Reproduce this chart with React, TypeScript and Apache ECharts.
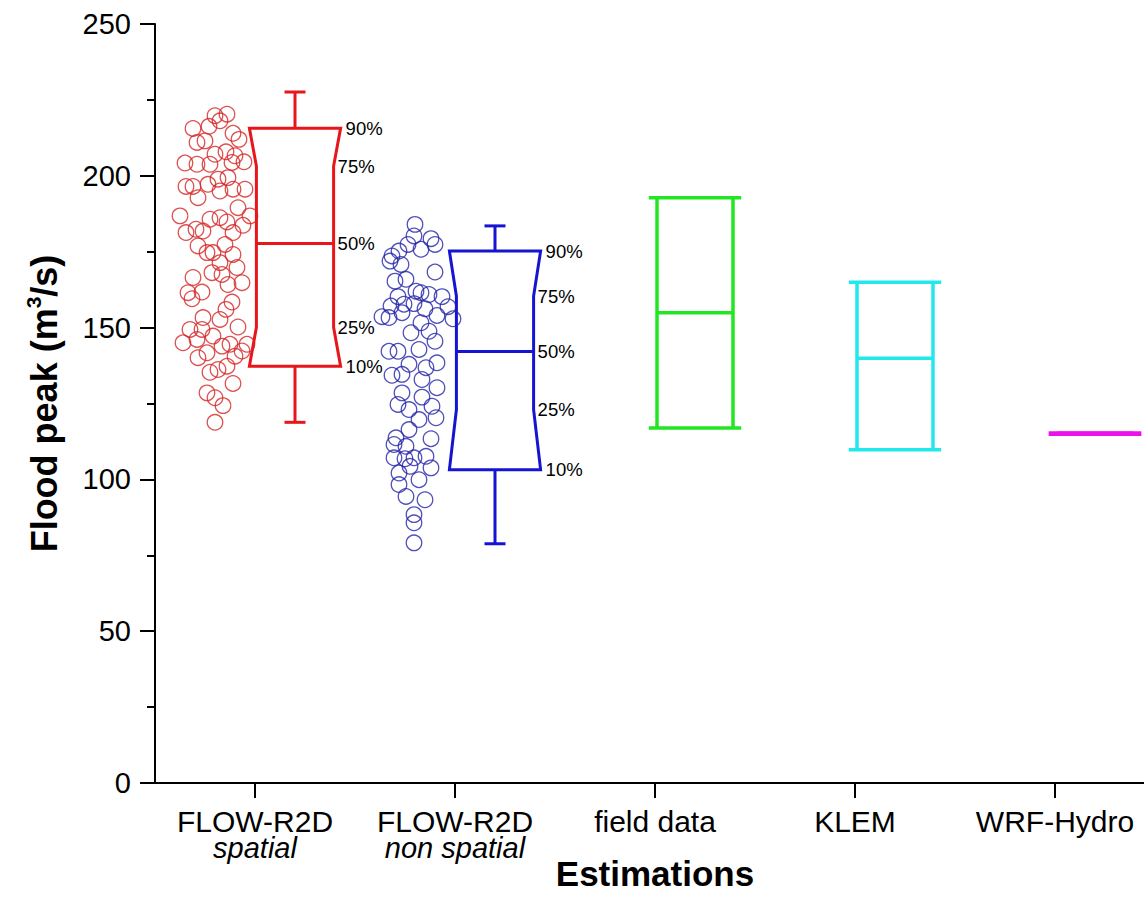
import React, { useEffect, useRef } from 'react';
import * as echarts from 'echarts';

const FONT = "'Liberation Sans', Arial, Helvetica, sans-serif";

// x categories (main label + italic sub label)
const categories = ['FLOW-R2D', 'FLOW-R2D', 'field data', 'KLEM', 'WRF-Hydro'];
const subLabels = ['spatial', 'non spatial', '', '', ''];

const yMin = 0;
const yMax = 250;
const yStep = 50;

// [jitter (category units), flood peak] for the FLOW-R2D spatial runs
const spatialRuns = [
  [-0.2, 219.8], [-0.14, 220.3], [-0.31, 215.6], [-0.23, 216.3], [-0.175, 218.1], [-0.11, 214.0],
  [-0.08, 212.0], [-0.29, 211.0], [-0.25, 211.5], [-0.145, 207.9], [-0.2, 207.1], [-0.1, 206.6],
  [-0.055, 204.6], [-0.35, 204.2], [-0.29, 203.8], [-0.225, 203.8], [-0.115, 204.4], [-0.135, 199.4],
  [-0.185, 198.9], [-0.235, 197.2], [-0.345, 196.5], [-0.31, 196.5], [-0.05, 195.6], [-0.11, 195.6],
  [-0.285, 192.8], [-0.175, 195.0], [-0.085, 189.5], [-0.375, 186.8], [-0.025, 186.8], [-0.225, 185.7],
  [-0.175, 186.2], [-0.14, 184.8], [-0.06, 183.7], [-0.345, 181.3], [-0.295, 182.4], [-0.26, 181.8],
  [-0.11, 181.3], [-0.285, 176.9], [-0.15, 177.4], [-0.24, 174.7], [-0.21, 174.7], [-0.11, 174.1],
  [-0.175, 171.4], [-0.09, 169.8], [-0.215, 168.1], [-0.31, 166.5], [-0.135, 164.2], [-0.065, 164.8],
  [-0.165, 167.5], [-0.335, 161.5], [-0.315, 159.5], [-0.265, 161.7], [-0.115, 158.4], [-0.145, 156.0],
  [-0.26, 153.3], [-0.175, 152.7], [-0.085, 150.2], [-0.325, 149.4], [-0.265, 149.4], [-0.36, 145.0],
  [-0.29, 146.1], [-0.21, 147.2], [-0.165, 143.9], [-0.125, 144.5], [-0.04, 144.5], [-0.065, 142.3],
  [-0.285, 140.1], [-0.24, 141.7], [-0.1, 140.6], [-0.225, 135.3], [-0.185, 136.2], [-0.14, 137.3],
  [-0.11, 131.6], [-0.24, 128.5], [-0.2, 126.9], [-0.16, 124.3], [-0.2, 118.8],
];

// [jitter (category units), flood peak] for the FLOW-R2D non spatial runs
const nonSpatialRuns = [
  [-0.2, 184.0], [-0.205, 180.2], [-0.12, 179.3], [-0.1, 177.4], [-0.235, 177.4], [-0.28, 175.2],
  [-0.17, 175.8], [-0.325, 171.9], [-0.27, 170.8], [-0.1, 168.3], [-0.3, 165.3], [-0.245, 165.9],
  [-0.195, 162.0], [-0.17, 161.5], [-0.13, 160.9], [-0.285, 160.2], [-0.065, 160.2], [-0.32, 157.1],
  [-0.365, 153.6], [-0.33, 153.3], [-0.265, 154.9], [-0.15, 156.2], [-0.09, 154.0], [-0.035, 156.9],
  [-0.01, 152.9], [-0.17, 151.6], [-0.22, 148.3], [-0.13, 148.8], [-0.1, 145.5], [-0.33, 142.2],
  [-0.285, 142.2], [-0.18, 142.8], [-0.23, 137.9], [-0.145, 136.8], [-0.09, 138.4], [-0.315, 134.3],
  [-0.265, 134.6], [-0.165, 132.9], [-0.09, 130.2], [-0.265, 128.5], [-0.165, 127.1], [-0.285, 124.7],
  [-0.23, 123.0], [-0.115, 124.1], [-0.095, 120.3], [-0.18, 119.7], [-0.23, 116.4], [-0.295, 113.7],
  [-0.12, 113.4], [-0.245, 110.9], [-0.305, 107.1], [-0.205, 107.1], [-0.145, 107.6], [-0.12, 103.8],
  [-0.28, 102.1], [-0.18, 99.9], [-0.28, 98.3], [-0.245, 94.4], [-0.15, 93.3], [-0.205, 88.4],
  [-0.205, 85.7], [-0.205, 79.1], [-0.255, 157.7], [-0.205, 157.9], [-0.25, 106.8], [-0.225, 104.3],
  [-0.305, 111.5], [-0.315, 173.6],
];

// notched boxes: [category, lower whisker, p10, p25, median, p75, p90, upper whisker]
const notchedBoxes = [
  [0, 118.8, 137.3, 150.1, 177.7, 203.2, 215.7, 227.6],
  [1, 78.8, 103.2, 123.0, 142.1, 160.4, 175.2, 183.5],
];
const percentLabels = ['10%', '25%', '50%', '75%', '90%'];

// simple boxes: [category, min, median, max]
const simpleBoxes = [
  [2, 116.9, 154.9, 192.8],
  [3, 109.8, 139.9, 164.9],
  [4, 115.0, 115.0, 115.0],
];

const boxColors = ['#e8151b', '#1414d2', '#22e622', '#22e8ec', '#ea12ea'];
const dotColors = ['#d42626', '#2424a8'];

const BOX_OFFSET = 0.2;
const NOTCH_HALF = 0.228;
const NOTCH_INSET = 7;
const CAP_HALF = 10.5;
const SIMPLE_HALF = 0.19;
const SIMPLE_CAP_HALF = 0.231;

function line(x1: number, y1: number, x2: number, y2: number, style: any) {
  return { type: 'line', shape: { x1, y1, x2, y2 }, style };
}

function renderNotched(params: any, api: any) {
  const cat = api.value(0) as number;
  const low = api.value(1), p10 = api.value(2), p25 = api.value(3), med = api.value(4);
  const p75 = api.value(5), p90 = api.value(6), high = api.value(7);
  const color = boxColors[cat];
  const cx = api.coord([cat + BOX_OFFSET, med])[0];
  const hw = api.size([NOTCH_HALF, 0])[0];
  const y = (v: number) => api.coord([cat + BOX_OFFSET, v])[1];
  const st = { stroke: color, lineWidth: 3, fill: 'none' };
  const L = cx - hw, R = cx + hw, Li = L + NOTCH_INSET, Ri = R - NOTCH_INSET;
  const children: any[] = [
    {
      type: 'polygon',
      shape: {
        points: [
          [L, y(p90)], [R, y(p90)], [Ri, y(p75)], [Ri, y(p25)],
          [R, y(p10)], [L, y(p10)], [Li, y(p25)], [Li, y(p75)],
        ],
      },
      style: st,
    },
    line(Li, y(med), Ri, y(med), st),
    line(cx, y(p90), cx, y(high), st),
    line(cx, y(p10), cx, y(low), st),
    line(cx - CAP_HALF, y(high), cx + CAP_HALF, y(high), st),
    line(cx - CAP_HALF, y(low), cx + CAP_HALF, y(low), st),
  ];
  const levels = [p10, p25, med, p75, p90];
  const xs = [R + 5, Ri + 4, Ri + 4, Ri + 4, R + 5];
  levels.forEach((lv, i) => {
    children.push({
      type: 'text',
      style: {
        text: percentLabels[i],
        x: xs[i],
        y: y(lv),
        fill: '#000',
        fontSize: 18.5,
        fontFamily: FONT,
        align: 'left',
        verticalAlign: 'middle',
      },
    });
  });
  return { type: 'group', children };
}

function renderSimple(params: any, api: any) {
  const cat = api.value(0) as number;
  const mn = api.value(1), md = api.value(2), mx = api.value(3);
  const color = boxColors[cat];
  const cx = api.coord([cat + BOX_OFFSET, md])[0];
  const hw = api.size([SIMPLE_HALF, 0])[0];
  const cw = api.size([SIMPLE_CAP_HALF, 0])[0];
  const y = (v: number) => api.coord([cat + BOX_OFFSET, v])[1];
  const st = { stroke: color, lineWidth: cat === 4 ? 4.5 : 3.5, fill: 'none' };
  return {
    type: 'group',
    children: [
      line(cx - cw, y(mx), cx + cw, y(mx), st),
      line(cx - cw, y(mn), cx + cw, y(mn), st),
      line(cx - hw, y(mx), cx - hw, y(mn), st),
      line(cx + hw, y(mx), cx + hw, y(mn), st),
      line(cx - hw, y(md), cx + hw, y(md), st),
    ],
  };
}

export default function App() {
  const ref = useRef<HTMLDivElement>(null);
  useEffect(() => {
    if (!ref.current) return;
    document.body.style.overflow = 'hidden';
    const chart = echarts.init(ref.current, undefined, { renderer: 'svg' });
    const catKeys = categories.map((c, i) => (subLabels[i] ? c + ' ' + subLabels[i] : c));
    chart.setOption({
      animation: false,
      backgroundColor: '#ffffff',
      grid: { left: 155, right: 0, top: 24, bottom: 135, containLabel: false, outerBoundsMode: 'none' },
      xAxis: [
        {
          type: 'category',
          data: catKeys,
          boundaryGap: true,
          name: 'Estimations',
          nameLocation: 'middle',
          nameGap: 73,
          nameMoveOverlap: false,
          nameTextStyle: { fontSize: 35, fontWeight: 'bold', color: '#000', fontFamily: FONT },
          axisLine: { show: true, onZero: false, lineStyle: { color: '#000', width: 2 } },
          axisTick: { show: true, alignWithLabel: true, length: 15, lineStyle: { color: '#000', width: 2 } },
          splitLine: { show: false },
          axisLabel: {
            interval: 0,
            margin: 23,
            color: '#000',
            fontSize: 30,
            lineHeight: 30,
            fontFamily: FONT,
            formatter: (_v: string, i: number) =>
              subLabels[i] ? categories[i] + '\n{it|' + subLabels[i] + '}' : categories[i],
            rich: {
              it: { fontStyle: 'italic', fontSize: 29, lineHeight: 24, color: '#000', fontFamily: FONT },
            },
          },
        },
        {
          type: 'value',
          min: -0.5,
          max: 4.5,
          show: false,
        },
      ],
      yAxis: {
        type: 'value',
        min: yMin,
        max: yMax,
        interval: yStep,
        name: 'Flood peak (m{sup|3}/s)',
        nameLocation: 'middle',
        nameGap: 90,
        nameTextStyle: {
          fontSize: 36,
          fontWeight: 'bold',
          color: '#000',
          fontFamily: FONT,
          lineHeight: 42,
          rich: { sup: { fontSize: 21, fontWeight: 'bold', verticalAlign: 'top', lineHeight: 20, color: '#000', fontFamily: FONT } },
        },
        axisLine: { show: true, onZero: false, lineStyle: { color: '#000', width: 2 } },
        axisTick: { show: true, length: 15, lineStyle: { color: '#000', width: 2 } },
        minorTick: { show: true, splitNumber: 2, length: 8, lineStyle: { color: '#000', width: 2 } },
        splitLine: { show: false },
        axisLabel: { color: '#000', fontSize: 29, margin: 24, fontFamily: FONT },
      },
      series: [
        {
          type: 'scatter',
          xAxisIndex: 1,
          data: spatialRuns.map(([j, v]) => [0 + j, v]),
          symbol: 'circle',
          symbolSize: 15.5,
          itemStyle: { color: 'rgba(0,0,0,0)', borderColor: dotColors[0], borderWidth: 1.3 },
          silent: true,
        },
        {
          type: 'scatter',
          xAxisIndex: 1,
          data: nonSpatialRuns.map(([j, v]) => [1 + j, v]),
          symbol: 'circle',
          symbolSize: 15.5,
          itemStyle: { color: 'rgba(0,0,0,0)', borderColor: dotColors[1], borderWidth: 1.3 },
          silent: true,
        },
        {
          type: 'custom',
          xAxisIndex: 1,
          data: notchedBoxes,
          renderItem: renderNotched,
          silent: true,
          clip: false,
        },
        {
          type: 'custom',
          xAxisIndex: 1,
          data: simpleBoxes,
          renderItem: renderSimple,
          silent: true,
          clip: false,
        },
      ],
    });
    return () => chart.dispose();
  }, []);
  return (
    <div
      ref={ref}
      style={{ position: 'fixed', left: 0, top: 0, width: 1155, height: 918, background: '#fff' }}
    />
  );
}
